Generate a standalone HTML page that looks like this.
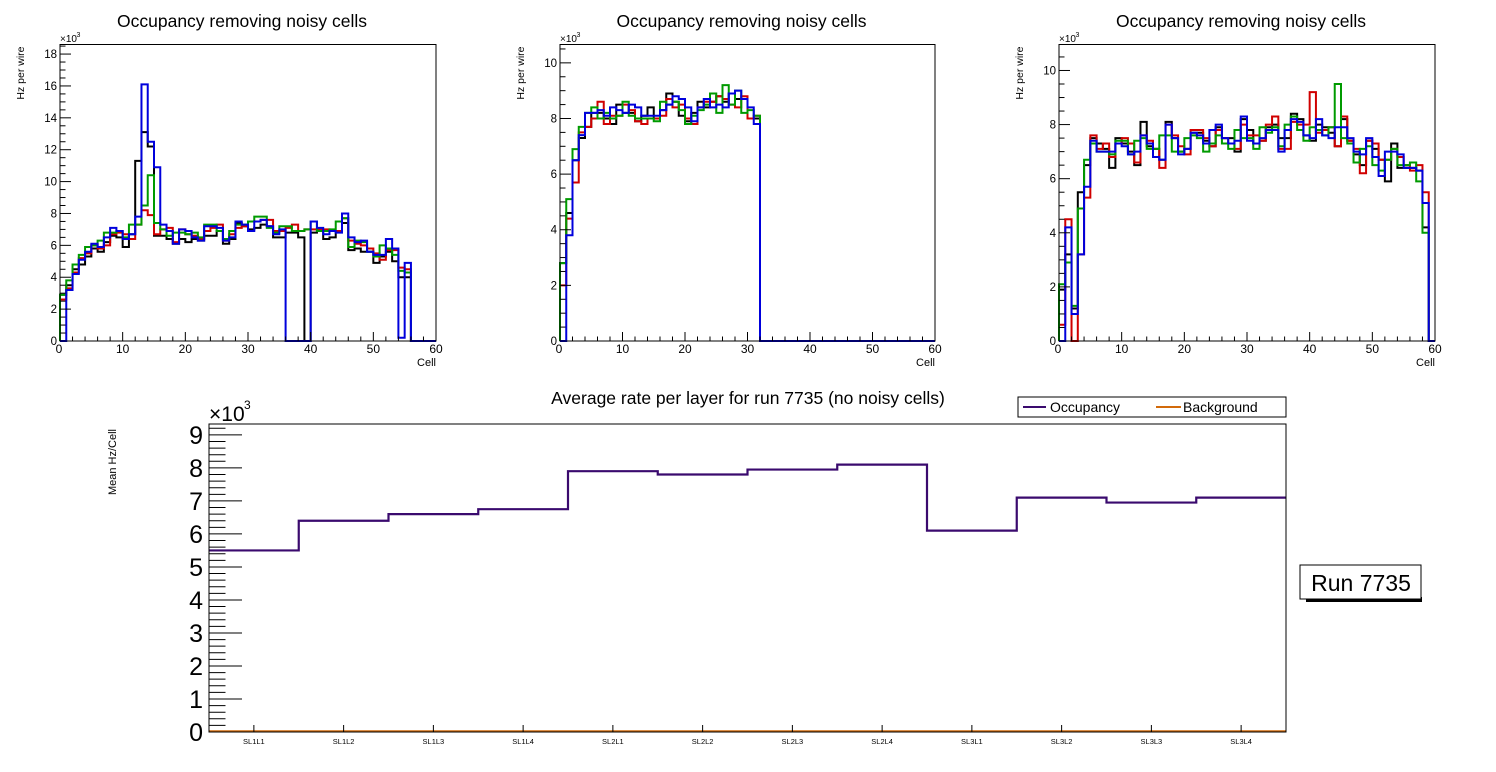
<!DOCTYPE html>
<html><head><meta charset="utf-8"><style>
html,body{margin:0;padding:0;background:#fff;}
svg{display:block;font-family:"Liberation Sans",sans-serif;}
</style></head><body>
<svg id="s" width="1496" height="772" viewBox="0 0 1496 772"></svg>
<script>
// ---- data ----
const cells = Array.from({length:60},(_,i)=>i);
const p1Black=[2.9,3.5,4.5,4.8,5.3,5.8,5.6,6.2,6.6,6.5,5.9,6.7,11.3,13.1,12.2,6.6,6.6,6.4,6.1,6.4,6.2,6.4,6.3,6.6,6.6,6.9,6.1,6.4,7.4,7.2,7.0,7.1,7.3,7.2,6.5,6.5,6.8,6.8,6.5,0,6.8,6.9,6.4,6.5,6.9,7.4,5.7,5.8,5.6,5.6,4.9,5.3,5.6,5.0,4.0,4.0,0,0,0,0];
const p1Red=[2.6,3.3,4.3,5.2,5.5,6.0,5.8,6.0,6.7,6.8,6.7,6.4,7.3,8.2,7.9,6.7,7.0,7.1,6.2,7.0,6.7,6.6,6.4,6.9,7.1,7.3,6.3,6.7,7.1,7.2,7.5,7.5,7.6,7.6,6.9,6.9,7.1,7.3,6.9,7.0,7.0,7.0,7.0,6.9,6.9,7.7,6.3,6.1,6.0,5.8,5.5,5.1,5.7,5.7,4.6,4.5,0,0,0,0];
const p1Green=[2.9,3.8,4.8,5.4,5.9,6.0,6.3,6.8,6.8,6.9,6.5,7.3,7.3,8.5,10.4,7.4,7.0,6.6,6.8,6.8,6.7,6.8,6.5,7.3,7.3,6.9,6.4,6.9,7.3,7.3,7.5,7.8,7.8,7.1,6.8,7.2,7.2,6.9,6.9,7.0,7.5,6.9,6.9,7.0,7.5,7.7,5.9,6.3,6.2,5.6,5.3,6.0,5.8,5.4,4.4,4.3,0,0,0,0];
const p1Blue=[0,3.2,4.2,5.1,5.6,6.1,5.9,6.5,7.1,6.9,6.4,6.7,7.8,16.1,12.5,10.9,7.3,6.9,6.1,7.0,6.9,6.5,6.3,7.2,7.2,7.1,6.3,6.5,7.5,7.3,6.9,7.5,7.6,7.2,6.7,7.0,0,0,0,0,7.5,7.1,6.7,6.9,6.8,8.0,6.5,6.2,6.3,5.6,5.4,5.4,6.4,5.8,0.2,4.9,0,0,0,0];
const z28=new Array(28).fill(0);
const p2Black=[2.8,4.6,6.5,7.3,7.7,8.2,8.2,8.0,7.8,8.5,8.2,8.2,7.9,8.1,8.4,8.0,8.3,8.9,8.6,8.1,7.9,8.2,8.6,8.4,8.6,8.8,8.6,8.9,8.7,8.7,8.0,8.0].concat(z28);
const p2Red=[2.0,4.4,5.7,7.5,7.7,8.0,8.6,7.8,8.1,8.1,8.5,8.3,7.9,7.8,8.0,8.0,8.1,8.7,8.4,8.5,8.0,7.8,8.4,8.6,8.6,8.8,8.7,8.5,8.4,8.8,8.0,8.1].concat(z28);
const p2Green=[2.8,5.1,6.9,7.7,8.2,8.4,8.0,8.2,8.0,8.1,8.6,8.1,8.0,8.0,8.0,7.9,8.6,8.5,8.6,8.3,7.8,8.1,8.3,8.5,8.9,8.2,9.2,8.5,9.0,8.2,8.3,8.1].concat(z28);
const p2Blue=[0,3.8,6.5,7.4,8.2,8.2,8.3,8.1,8.4,8.3,8.2,8.5,8.4,8.1,8.1,8.1,8.3,8.5,8.8,8.7,8.4,7.9,8.4,8.7,8.4,8.5,8.4,8.9,9.0,8.7,8.4,7.8].concat(z28);
const p3Black=[1.9,3.2,1.2,5.5,6.5,7.5,7.3,7.1,6.4,7.5,7.3,7.0,6.5,8.1,7.2,7.1,6.7,8.1,7.5,7.0,7.1,7.7,7.7,7.4,7.2,7.9,7.5,7.5,7.0,8.2,7.8,7.3,7.4,7.9,8.0,7.5,7.5,8.4,8.2,7.6,7.4,8.0,7.9,7.7,7.2,8.2,7.4,6.9,6.5,7.4,7.1,6.7,5.9,7.3,6.4,6.4,6.4,6.3,4.2,0];
const p3Red=[0.6,4.5,0,3.2,5.3,7.6,7.1,7.3,6.8,7.3,7.5,7.3,6.6,7.6,7.4,7.1,6.4,8.0,7.6,7.2,6.9,7.8,7.8,7.5,7.2,7.8,7.5,7.3,7.1,8.0,7.6,7.6,7.4,8.0,8.3,7.1,7.1,8.1,8.0,8.0,9.2,7.7,7.8,7.9,7.2,8.3,7.4,7.1,6.2,7.4,7.3,6.7,6.7,7.1,6.8,6.5,6.3,6.5,5.5,0];
const p3Green=[2.1,2.9,1.3,4.9,6.7,7.3,7.0,7.0,6.9,7.4,7.4,6.9,7.4,7.5,7.1,7.1,7.6,7.6,7.0,7.0,7.5,7.6,7.5,7.0,7.3,7.6,7.3,7.1,7.8,7.5,7.5,7.1,7.9,7.7,7.9,7.2,8.0,8.3,7.8,7.4,7.9,7.8,7.6,7.9,9.5,7.5,7.3,6.6,7.1,7.2,6.5,6.3,6.7,7.1,6.5,6.5,6.6,5.9,4.0,0];
const p3Blue=[0,4.2,1.0,3.2,5.7,7.4,7.0,7.0,7.0,7.3,7.2,6.9,7.0,7.6,7.3,6.8,6.7,8.0,7.5,6.9,7.1,7.7,7.6,7.3,7.8,8.0,7.5,7.3,7.4,8.3,7.4,7.3,7.5,7.8,7.8,7.0,7.8,8.2,8.1,7.6,7.5,8.2,7.6,7.5,7.9,7.9,7.5,7.0,6.9,7.5,6.8,6.1,7.0,7.0,6.9,6.4,6.4,6.3,5.1,0];
const layers=["SL1L1","SL1L2","SL1L3","SL1L4","SL2L1","SL2L2","SL2L3","SL2L4","SL3L1","SL3L2","SL3L3","SL3L4"];
const occupancy=[5.5,6.4,6.6,6.75,7.9,7.8,7.95,8.1,6.1,7.1,6.95,7.1];
const background=[0.02,0.02,0.02,0.02,0.02,0.02,0.02,0.02,0.02,0.02,0.02,0.02];

const S=document.getElementById('s');
const NS='http://www.w3.org/2000/svg';
function el(tag,attrs,parent){const e=document.createElementNS(NS,tag);for(const k in attrs)e.setAttribute(k,attrs[k]);(parent||S).appendChild(e);return e;}
function txt(str,x,y,size,anchor,parent,extra){const t=el('text',Object.assign({x:x,y:y,'font-size':size,'text-anchor':anchor||'start',fill:'#000'},extra||{}),parent);t.textContent=str;return t;}

function histPanel(name,L,R,T,B,ymax,yMajor,yMinor,series,colors,labels){
  const g=el('g',{});
  
  
  const X=v=>L+(R-L)*v/60, Y=v=>B-(B-T)*v/ymax;
  const cx=(L+R)/2;
  const title=txt('Occupancy removing noisy cells',cx-6,27,17.5,'middle',g);
  
  
  series.forEach((arr,si)=>{
    let d='M'+X(0)+','+Y(0);
    arr.forEach((v,i)=>{d+=' L'+X(cells[i])+','+Y(v)+' L'+X(cells[i]+1)+','+Y(v);});
    d+=' L'+X(60)+','+Y(0);
    const p=el('path',{d:d,fill:'none',stroke:colors[si],'stroke-width':2},g);
    
    
  });
  const fr=el('rect',{x:L,y:T,width:R-L,height:B-T,fill:'none',stroke:'#000','stroke-width':1},g);
  
  
  for(let v=0;v<=60;v+=2){const x=X(v);const len=v%10===0?9:4.5;el('line',{x1:x,x2:x,y1:B,y2:B-len,stroke:'#000','stroke-width':1},g);}
  for(let v=0;v<=60;v+=10){const t=txt(String(v),X(v)+(v===0?-1:0),353,12,'middle',g);}
  const xt=txt('Cell',R,366,11,'end',g);
  for(let v=0;v<=ymax+1e-6;v+=yMinor){const y=Y(v);const maj=Math.abs(v/yMajor-Math.round(v/yMajor))<1e-6;el('line',{x1:L,x2:L+(maj?11:5.5),y1:y,y2:y,stroke:'#000','stroke-width':1},g);
    if(maj){const t=txt(String(Math.round(v)),L-3,y+4,11.5,'end',g);}}
  const mul=txt('×10',L,42,10,'start',g);
  txt('3',L+16.5,37,7,'start',g);
  const yt=txt('Hz per wire',0,0,10.5,'end',g,{transform:'translate('+(L-36)+','+(T+2)+') rotate(-90)'});
  
}
const cols=['#000000','#d00000','#009a00','#0000dc'];
const labs=['series-black','series-red','series-green','series-blue'];
histPanel('occupancy-panel-1',60,436,44.5,341,18.6,2,0.5,[p1Black,p1Red,p1Green,p1Blue],cols,labs);
histPanel('occupancy-panel-2',560,935,44.5,341,10.66,2,0.5,[p2Black,p2Red,p2Green,p2Blue],cols,labs);
histPanel('occupancy-panel-3',1059,1435,44.5,341,10.96,2,0.5,[p3Black,p3Red,p3Green,p3Blue],cols,labs);

(function(){
  const g=el('g',{});
  
  
  const L=209,R=1286,T=424,B=732,ymax=9.33;
  const n=layers.length, bw=(R-L)/n;
  const X=i=>L+bw*i, Y=v=>B-(B-T)*v/ymax;
  const title=txt('Average rate per layer for run 7735 (no noisy cells)',748,404,17.5,'middle',g);
  
  function step(arr,color,name){
    let d='M'+X(0)+','+Y(arr[0]);
    arr.forEach((v,i)=>{d+=' L'+X(i)+','+Y(v)+' L'+X(i+1)+','+Y(v);});
    const p=el('path',{d:d,fill:'none',stroke:color,'stroke-width':2.2},g);
    
  }
  step(occupancy,'#3a0a6e','occupancy-line');
  step(background,'#d26a0a','background-line');
  const fr=el('rect',{x:L,y:T,width:R-L,height:B-T,fill:'none',stroke:'#000','stroke-width':1},g);
  
  for(let k=0;k<=46;k++){const v=k*0.2;const y=Y(v);const maj=k%5===0;el('line',{x1:L,x2:L+(maj?33:16.5),y1:y,y2:y,stroke:'#000','stroke-width':1},g);
    if(maj){const t=txt(String(k/5),L-6,y+9,25,'end',g);}}
  layers.forEach((lb,i)=>{const x=X(i+0.5);el('line',{x1:x,x2:x,y1:B,y2:B-7,stroke:'#000','stroke-width':1},g);
    const t=txt(lb,x,744,7.5,'middle',g);});
  const mul=txt('×10',L,421,21,'start',g);
  txt('3',L+35,409,12,'start',g);
  const yt=txt('Mean Hz/Cell',0,0,11,'middle',g,{transform:'translate(116,462) rotate(-90)'});
  
  const lg=el('g',{},g);
  
  el('rect',{x:1018,y:397,width:268,height:20,fill:'#fff',stroke:'#000','stroke-width':1},lg);
  el('line',{x1:1023,x2:1046,y1:407,y2:407,stroke:'#3a0a6e','stroke-width':2},lg);
  const e1=txt('Occupancy',1050,412,14,'start',lg);
  el('line',{x1:1156,x2:1181,y1:407,y2:407,stroke:'#d26a0a','stroke-width':2},lg);
  const e2=txt('Background',1183,412,14,'start',lg);
  const rb=el('g',{},g);
  
  el('rect',{x:1306,y:597,width:116,height:5,fill:'#000'},rb);
  el('rect',{x:1300,y:565,width:121,height:34,fill:'#fff',stroke:'#000','stroke-width':1},rb);
  txt('Run 7735',1361,591,23,'middle',rb);
})();
</script>
</body></html>
